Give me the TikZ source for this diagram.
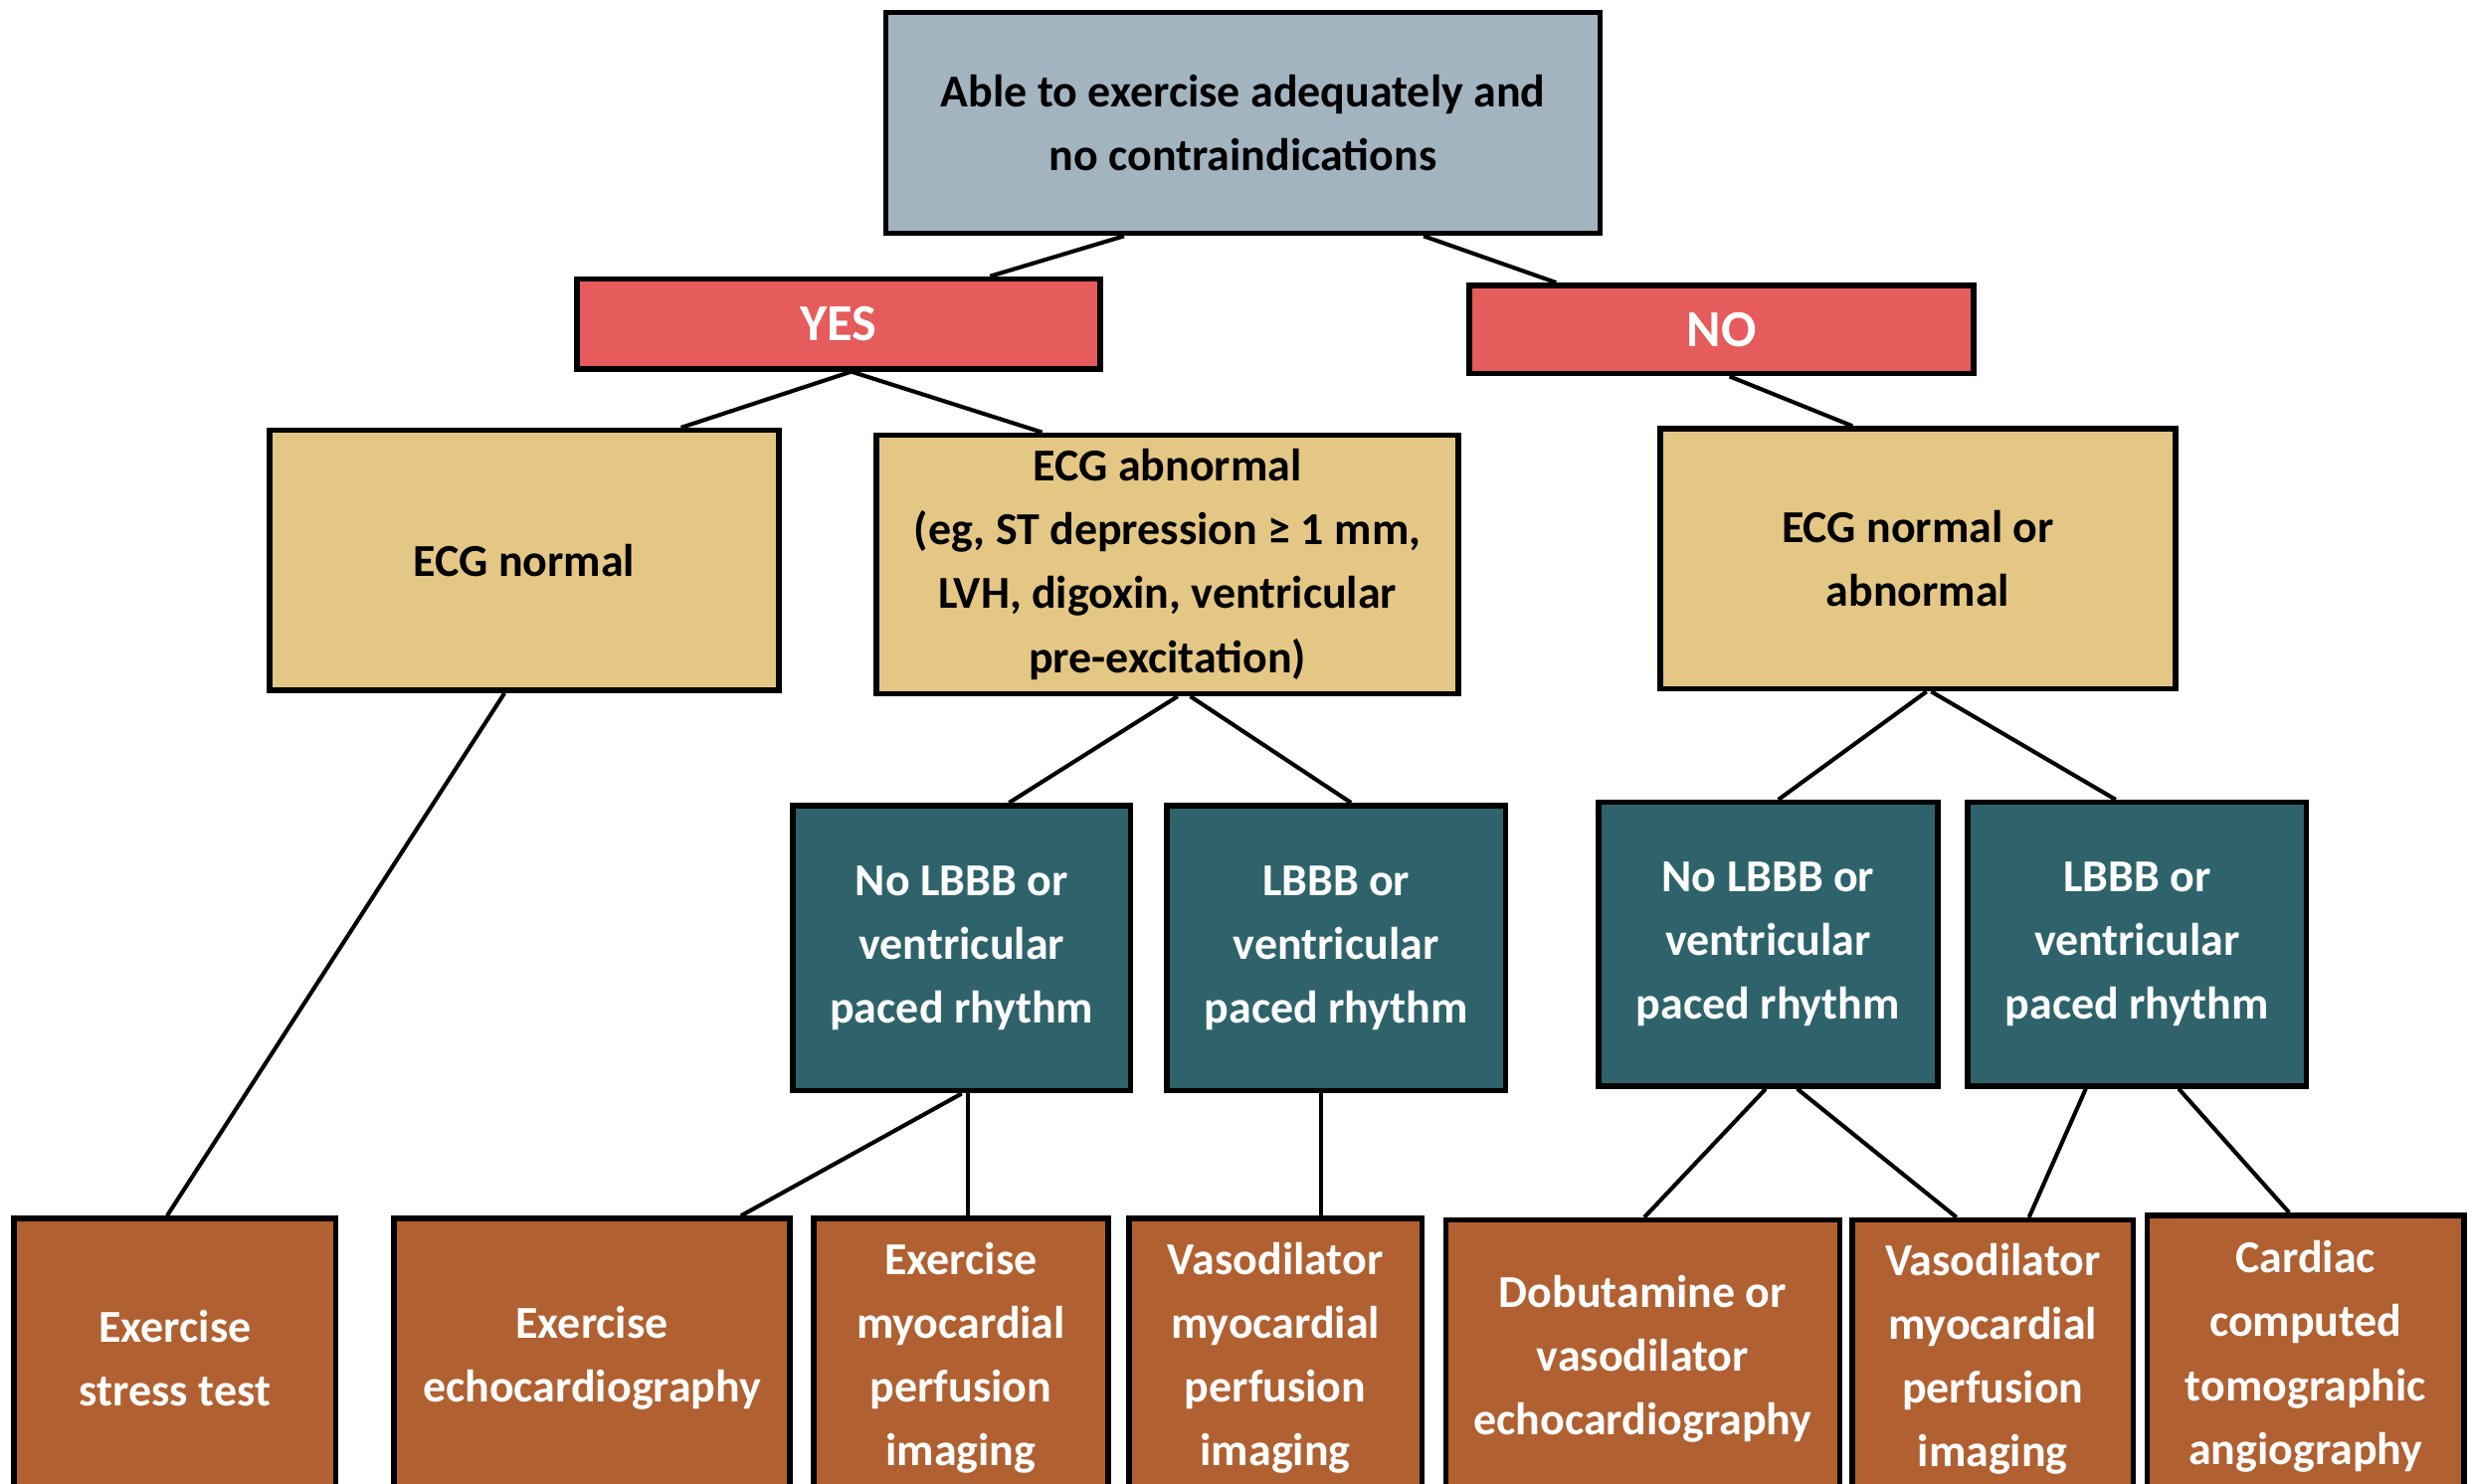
\documentclass[tikz,border=0pt]{standalone}
\usepackage{fontspec}
\setmainfont{Carlito}
\definecolor{cgray}{HTML}{A3B4C1}
\definecolor{cred}{HTML}{E65B5B}
\definecolor{ctan}{HTML}{E4C785}
\definecolor{cteal}{HTML}{2E636B}
\definecolor{cbrown}{HTML}{B16031}
\begin{document}
\begin{tikzpicture}[x=1pt,y=-1pt,
  box/.style={draw=black,line width=3.5pt,rectangle,align=center,inner sep=0pt,
    font=\fontsize{29}{40.5}\selectfont\bfseries},
  gbox/.style={box,fill=cgray,text=black},
  rbox/.style={box,fill=cred,text=white,font=\fontsize{33}{40}\selectfont\bfseries},
  tbox/.style={box,fill=ctan,text=black},
  qbox/.style={box,fill=cteal,text=white},
  bbox/.style={box,fill=cbrown,text=white},
  conn/.style={draw=black,line width=2.6pt}]
\clip (0,0) rectangle (1568,941);
\fill[white] (0,0) rectangle (1568,941);
% nodes
\node[gbox,minimum width=453pt,minimum height=140pt] (top) at (788.5,78) {Able to exercise adequately and\\no contraindications};
\node[rbox,minimum width=332pt,minimum height=57pt] (yes) at (532,205.5) {YES};
\node[rbox,minimum width=320pt,minimum height=56pt] (no) at (1092,209) {NO};
\node[tbox,minimum width=323pt,minimum height=165pt] (ecgn) at (332.5,355.5) {ECG normal};
\node[tbox,minimum width=369pt,minimum height=164pt] (ecga) at (740.5,358) {ECG abnormal\\(eg, ST depression ≥ 1 mm,\\LVH, digoxin, ventricular\\pre-excitation)};
\node[tbox,minimum width=327pt,minimum height=165pt] (ecgna) at (1216.5,354.5) {ECG normal or\\abnormal};
\node[qbox,minimum width=214pt,minimum height=181pt] (t1) at (610,601.5) {No LBBB or\\ventricular\\paced rhythm};
\node[qbox,minimum width=215pt,minimum height=181pt] (t2) at (847.5,601.5) {LBBB or\\ventricular\\paced rhythm};
\node[qbox,minimum width=215pt,minimum height=180pt] (t3) at (1121.5,599) {No LBBB or\\ventricular\\paced rhythm};
\node[qbox,minimum width=215pt,minimum height=180pt] (t4) at (1355.5,599) {LBBB or\\ventricular\\paced rhythm};
\node[bbox,minimum width=204pt,minimum height=177pt] (b1) at (111,861.5) {Exercise\\stress test};
\node[bbox,minimum width=251pt,minimum height=177pt] (b2) at (375.5,861.5) {Exercise\\echocardiography};
\node[bbox,minimum width=187pt,minimum height=177pt] (b3) at (609.5,861.5) {Exercise\\myocardial\\perfusion\\imaging};
\node[bbox,minimum width=186pt,minimum height=177pt] (b4) at (809,861.5) {Vasodilator\\myocardial\\perfusion\\imaging};
\node[bbox,minimum width=250pt,minimum height=176pt] (b5) at (1042,862) {Dobutamine or\\vasodilator\\echocardiography};
\node[bbox,minimum width=178pt,minimum height=176pt] (b6) at (1264,862) {Vasodilator\\myocardial\\perfusion\\imaging};
\node[bbox,minimum width=201pt,minimum height=179pt] (b7) at (1462.5,860.5) {Cardiac\\computed\\tomographic\\angiography};
% connectors
\draw[conn] ([xshift=-75.5pt]top.south) -- ([xshift=96pt]yes.north);
\draw[conn] ([xshift=114.5pt]top.south) -- ([xshift=-105pt]no.north);
\draw[conn] ([xshift=8pt]yes.south) -- ([xshift=99.5pt]ecgn.north);
\draw[conn] ([xshift=8pt]yes.south) -- ([xshift=-79.5pt]ecga.north);
\draw[conn] ([xshift=5pt]no.south) -- ([xshift=-41.5pt]ecgna.north);
\draw[conn] ([xshift=-12.5pt]ecgn.south) -- ([xshift=-5pt]b1.north);
\draw[conn] ([xshift=6.5pt]ecga.south) -- ([xshift=30pt]t1.north);
\draw[conn] ([xshift=14.5pt]ecga.south) -- ([xshift=9.5pt]t2.north);
\draw[conn] ([xshift=5.5pt]ecgna.south) -- ([xshift=6.5pt]t3.north);
\draw[conn] ([xshift=8.5pt]ecgna.south) -- ([xshift=-13.5pt]t4.north);
\draw[conn] (t1.south) -- ([xshift=94.5pt]b2.north);
\draw[conn] ([xshift=4pt]t1.south) -- ([xshift=4.5pt]b3.north);
\draw[conn] ([xshift=-9.5pt]t2.south) -- ([xshift=29pt]b4.north);
\draw[conn] ([xshift=-1.5pt]t3.south) -- ([xshift=1pt]b5.north);
\draw[conn] ([xshift=18.5pt]t3.south) -- ([xshift=-23pt]b6.north);
\draw[conn] ([xshift=-32.5pt]t4.south) -- ([xshift=23pt]b6.north);
\draw[conn] ([xshift=26.5pt]t4.south) -- ([xshift=-10.5pt]b7.north);
\end{tikzpicture}
\end{document}
